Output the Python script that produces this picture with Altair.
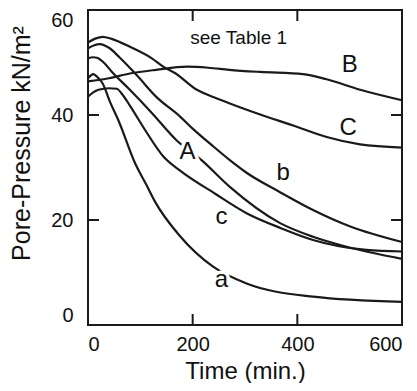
import altair as alt
import pandas as pd

# ---- data ----
C_x = [0, 15, 28, 45, 80, 122, 144, 166, 208, 243, 271, 329, 392, 456, 520, 600]
C_y = [53.8, 54.6, 54.9, 54.5, 53.0, 50.8, 49.2, 48.0, 44.8, 43.3, 42.2, 40.1, 38.0, 35.8, 34.4, 33.8]

B_x = [0, 40, 80, 130, 189, 230, 270, 329, 411, 456, 520, 600]
B_y = [46.4, 47.0, 47.9, 48.6, 49.2, 49.0, 48.6, 48.2, 47.8, 46.8, 44.8, 42.8]

b_x = [0, 12, 23, 40, 60, 93, 130, 176, 201, 236, 271, 303, 367, 430, 500, 600]
b_y = [52.7, 53.3, 53.5, 52.8, 51.0, 47.6, 43.5, 39.7, 37.3, 34.3, 31.4, 29.0, 25.3, 21.9, 18.8, 15.8]

A_x = [0, 10, 17, 30, 45, 80, 122, 169, 217, 271, 367, 430, 494, 600]
A_y = [50.8, 51.0, 50.9, 50.0, 48.3, 44.8, 40.4, 35.2, 31.4, 26.3, 19.4, 16.8, 14.9, 12.6]

c_x = [0, 10, 20, 40, 55, 65, 80, 110, 144, 176, 243, 303, 370, 430, 532, 600]
c_y = [43.5, 44.3, 44.8, 45.1, 45.0, 44.0, 41.8, 37.0, 32.1, 29.4, 25.0, 21.3, 18.4, 16.2, 14.3, 14.0]

a_x = [0, 10, 20, 28, 42, 58, 90, 112, 128, 176, 239, 303, 430, 600]
a_y = [47.0, 47.8, 47.0, 46.0, 42.5, 39.0, 30.8, 26.6, 23.5, 16.9, 11.1, 7.9, 5.4, 4.4]

series = {"C": (C_x, C_y), "B": (B_x, B_y), "b": (b_x, b_y),
          "A": (A_x, A_y), "c": (c_x, c_y), "a": (a_x, a_y)}

label_names = ["B", "C", "A", "b", "c", "a"]
label_x = [500, 497, 190, 373, 255, 255]
label_y = [49.6, 37.6, 33.0, 28.9, 20.6, 8.6]

note_text = ["see Table 1"]
note_x = [288]
note_y = [54.7]

x_ticks = [0, 200, 400, 600]
y_ticks = [0, 20, 40, 60]
x_inner_ticks = [200, 400]
y_inner_ticks = [20, 40]

W, H = 314, 315
FONT = "Liberation Sans"

rows = []
for name, (xs, ys) in series.items():
    for xv, yv in zip(xs, ys):
        rows.append({"curve": name, "t": xv, "p": yv})
df = pd.DataFrame(rows)

xscale = alt.Scale(domain=[0, 600], nice=False, zero=False)
yscale = alt.Scale(domain=[0, 60], nice=False, zero=False)

xaxis = alt.Axis(values=x_ticks, title="Time (min.)", grid=False, domain=False,
                 ticks=False, tickSize=0, labelPadding=9, labelFont=FONT,
                 labelFontSize=20, labelColor="#111", titleFont=FONT,
                 titleFontSize=24, titleFontWeight="normal", titleColor="#111",
                 titleY=53, titleBaseline="alphabetic")
yaxis = alt.Axis(values=y_ticks, title="Pore-Pressure kN/m²", grid=False,
                 domain=False, ticks=False, tickSize=0, labelPadding=15,
                 labelFlush=True, labelFont=FONT, labelFontSize=20,
                 labelColor="#111", titleFont=FONT, titleFontSize=25,
                 titleFontWeight="normal", titleColor="#111", titleX=-59,
                 titleY=133, titleBaseline="alphabetic", titleAngle=-90)

lines = alt.Chart(df).mark_line(interpolate="monotone", color="#1a1a1a",
                                strokeWidth=2.2).encode(
    x=alt.X("t:Q", scale=xscale, axis=xaxis),
    y=alt.Y("p:Q", scale=yscale, axis=yaxis),
    detail="curve:N",
)

lab_df = pd.DataFrame({"lab": label_names, "t": label_x, "p": label_y})
halo = alt.Chart(lab_df).mark_text(font=FONT, fontSize=24, stroke="white",
                                   strokeWidth=7, color="white").encode(
    x=alt.X("t:Q", scale=xscale), y=alt.Y("p:Q", scale=yscale), text="lab:N")
labels = alt.Chart(lab_df).mark_text(font=FONT, fontSize=24, color="#111").encode(
    x=alt.X("t:Q", scale=xscale), y=alt.Y("p:Q", scale=yscale), text="lab:N")

note_df = pd.DataFrame({"lab": note_text, "t": note_x, "p": note_y})
note = alt.Chart(note_df).mark_text(font=FONT, fontSize=19, color="#111").encode(
    x=alt.X("t:Q", scale=xscale), y=alt.Y("p:Q", scale=yscale), text="lab:N")

xt_df = pd.DataFrame({"t": x_inner_ticks})
yt_df = pd.DataFrame({"p": y_inner_ticks})
TL = 11
tick_bottom = alt.Chart(xt_df).mark_rule(color="#1a1a1a", strokeWidth=2).encode(
    x=alt.X("t:Q", scale=xscale), y=alt.value(H), y2=alt.value(H - TL))
tick_top = alt.Chart(xt_df).mark_rule(color="#1a1a1a", strokeWidth=2).encode(
    x=alt.X("t:Q", scale=xscale), y=alt.value(0), y2=alt.value(TL))
tick_left = alt.Chart(yt_df).mark_rule(color="#1a1a1a", strokeWidth=2).encode(
    y=alt.Y("p:Q", scale=yscale), x=alt.value(0), x2=alt.value(TL))
tick_right = alt.Chart(yt_df).mark_rule(color="#1a1a1a", strokeWidth=2).encode(
    y=alt.Y("p:Q", scale=yscale), x=alt.value(W), x2=alt.value(W - TL))

chart = alt.layer(
    lines, halo, labels, note, tick_bottom, tick_top, tick_left, tick_right
).properties(
    width=W, height=H,
    autosize=alt.AutoSizeParams(type="none"),
    padding={"left": 80, "top": 2, "right": 7, "bottom": 58},
    background="white",
).configure_view(
    stroke="#1a1a1a", strokeWidth=2
)

chart.save("out.html", embed_options={"renderer": "svg", "actions": False})
